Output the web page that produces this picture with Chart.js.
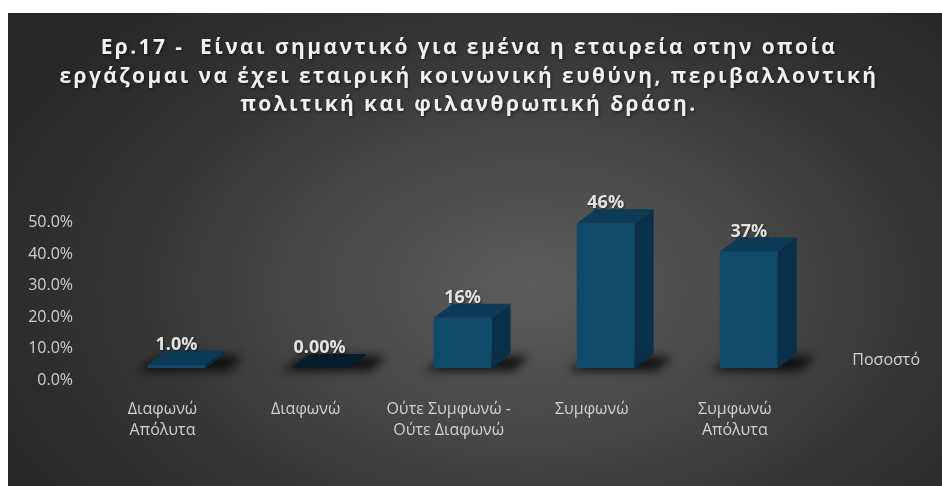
<!DOCTYPE html>
<html>
<head>
<meta charset="utf-8">
<script src="https://cdn.jsdelivr.net/npm/chart.js@4.4.1/dist/chart.umd.min.js"></script>
<style>
html, body { margin: 0; padding: 0; background: #fff; }
#wrap {
    position: absolute; left: 8px; top: 13px; width: 934px; height: 473px;
    background: radial-gradient(ellipse 62% 78% at 56% 58%, #5c5c5c 0%, #4a4a4a 35%, #343434 70%, #282828 100%);
}
canvas { display: block; }
</style>
</head>
<body>
<div id="wrap"><canvas id="chart" width="934" height="473"></canvas></div>
<script>
const titleLines = [
    'Ερ.17 -  Είναι σημαντικό για εμένα η εταιρεία στην οποία',
    'εργάζομαι να έχει εταιρική κοινωνική ευθύνη, περιβαλλοντική',
    'πολιτική και φιλανθρωπική δράση.'
]
const categories = [['Διαφωνώ', 'Απόλυτα'], 'Διαφωνώ', ['Ούτε Συμφωνώ -', 'Ούτε Διαφωνώ'], 'Συμφωνώ', ['Συμφωνώ', 'Απόλυτα']]
const seriesName = 'Ποσοστό'
const values = [0.01, 0, 0.16, 0.46, 0.37]
const valueLabels = ['1.0%', '0.00%', '16%', '46%', '37%']
const yTicks = [0, 0.1, 0.2, 0.3, 0.4, 0.5]
const yTickLabels = ['0.0%', '10.0%', '20.0%', '30.0%', '40.0%', '50.0%']

const FONT = '"Open Sans", "Noto Sans", sans-serif'
const TEXT = '#d2d2d2'
const depth = { x: 19, y: 14 }
const colors = { front: '#0f4a6b', side: '#0a3049', top: '#0c3b57', empty: '#061c29' }

// draws shadow, top and side faces so the bars look like Excel's 3D columns
const bar3d = {
    id: 'bar3d',
    beforeDatasetsDraw(chart) {
        const ctx = chart.ctx
        ctx.save()
        ctx.filter = 'blur(5px)'
        chart.getDatasetMeta(0).data.forEach((bar) => {
            const left = bar.x - bar.width / 2
            const right = bar.x + bar.width / 2
            const base = bar.base
            ctx.fillStyle = 'rgba(0,0,0,0.75)'
            ctx.beginPath()
            ctx.moveTo(left - 10, base + 3)
            ctx.lineTo(right + depth.x + 4, base + 3)
            ctx.lineTo(right + depth.x + 18, base - depth.y + 2)
            ctx.lineTo(left + depth.x - 6, base - depth.y + 2)
            ctx.closePath()
            ctx.fill()
        })
        ctx.restore()
    },
    afterDatasetsDraw(chart) {
        const ctx = chart.ctx
        ctx.save()
        chart.getDatasetMeta(0).data.forEach((bar, i) => {
            const left = bar.x - bar.width / 2
            const right = bar.x + bar.width / 2
            const top = bar.y
            const base = bar.base
            const empty = values[i] === 0

            ctx.fillStyle = colors.side
            ctx.beginPath()
            ctx.moveTo(right, top)
            ctx.lineTo(right + depth.x, top - depth.y)
            ctx.lineTo(right + depth.x, base - depth.y)
            ctx.lineTo(right, base)
            ctx.closePath()
            ctx.fill()

            ctx.fillStyle = empty ? colors.empty : colors.top
            ctx.beginPath()
            ctx.moveTo(left, top)
            ctx.lineTo(left + depth.x, top - depth.y)
            ctx.lineTo(right + depth.x, top - depth.y)
            ctx.lineTo(right, top)
            ctx.closePath()
            ctx.fill()

            ctx.font = 'bold 18px ' + FONT
            ctx.fillStyle = '#e4e4e4'
            ctx.textAlign = 'center'
            ctx.textBaseline = 'alphabetic'
            ctx.shadowColor = 'rgba(0,0,0,0.5)'
            ctx.shadowBlur = 2
            ctx.shadowOffsetX = 1
            ctx.shadowOffsetY = 1
            ctx.fillText(valueLabels[i], bar.x, top - depth.y - 1)
            ctx.shadowColor = 'transparent'
        })
        ctx.restore()
    },
    afterInit(chart) {
        // spaced out, shadowed title like the original
        const block = chart.titleBlock
        if (!block) return
        const draw = block.draw.bind(block)
        block.draw = (area) => {
            const ctx = chart.ctx
            ctx.save()
            ctx.letterSpacing = '2.4px'
            ctx.shadowColor = 'rgba(0,0,0,0.6)'
            ctx.shadowBlur = 3
            ctx.shadowOffsetX = 1
            ctx.shadowOffsetY = 1
            draw(area)
            ctx.restore()
        }
    }
}

new Chart(document.getElementById('chart').getContext('2d'), {
    type: 'bar',
    data: {
        labels: categories,
        datasets: [{
            label: seriesName,
            data: values,
            backgroundColor: colors.front,
            borderWidth: 0,
            categoryPercentage: 0.45,
            barPercentage: 0.9
        }]
    },
    options: {
        responsive: false,
        animation: false,
        devicePixelRatio: 1,
        layout: { padding: { left: 0, right: 12, top: 0, bottom: 0 } },
        plugins: {
            title: {
                display: true,
                text: titleLines,
                color: '#f0f0f0',
                font: { family: FONT, size: 21, weight: 'bold', lineHeight: 1.36 },
                padding: { top: 21, bottom: 91 }
            },
            legend: {
                display: true,
                position: 'right',
                align: 'end',
                fullSize: false,
                labels: {
                    color: TEXT,
                    font: { family: FONT, size: 16 },
                    boxWidth: 24,
                    boxHeight: 0,
                    padding: 0,
                    generateLabels: (chart) => [{
                        text: seriesName,
                        fontColor: TEXT,
                        fillStyle: 'transparent',
                        strokeStyle: 'transparent',
                        lineWidth: 0,
                        datasetIndex: 0
                    }]
                }
            },
            tooltip: { enabled: false }
        },
        scales: {
            x: {
                grid: { display: false, drawTicks: false },
                border: { display: false },
                ticks: {
                    color: TEXT,
                    font: { family: FONT, size: 16, lineHeight: 1.31 },
                    padding: 31,
                    labelOffset: -14,
                    maxRotation: 0,
                    autoSkip: false
                },
                afterFit: (scale) => { scale.height = 118 }
            },
            y: {
                min: 0,
                max: 0.5,
                grid: { display: false, drawTicks: false },
                border: { display: false },
                afterBuildTicks: (scale) => { scale.ticks = yTicks.map((v) => ({ value: v })) },
                ticks: {
                    color: TEXT,
                    font: { family: FONT, size: 16 },
                    padding: 32,
                    labelOffset: 12,
                    callback: (v, i) => yTickLabels[i]
                },
                afterFit: (scale) => { scale.width = 97 }
            }
        }
    },
    plugins: [bar3d]
})
</script>
</body>
</html>
